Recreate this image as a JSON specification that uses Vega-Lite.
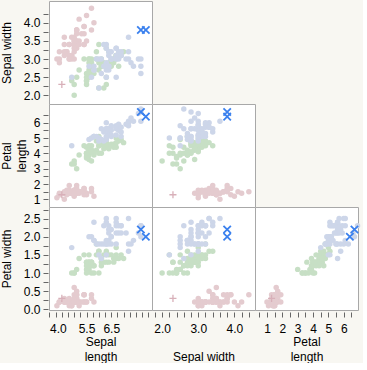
{
  "$schema": "https://vega.github.io/schema/vega-lite/v6.json",
  "background": "#f8f7f2",
  "padding": {"left": -1, "top": 0, "right": 0, "bottom": 0},
  "datasets": {
    "iris": [
      {"sl":5.1,"sw":3.5,"pl":1.4,"pw":0.2,"species":"setosa"},
      {"sl":4.9,"sw":3.0,"pl":1.4,"pw":0.2,"species":"setosa"},
      {"sl":4.7,"sw":3.2,"pl":1.3,"pw":0.2,"species":"setosa"},
      {"sl":4.6,"sw":3.1,"pl":1.5,"pw":0.2,"species":"setosa"},
      {"sl":5.0,"sw":3.6,"pl":1.4,"pw":0.2,"species":"setosa"},
      {"sl":5.4,"sw":3.9,"pl":1.7,"pw":0.4,"species":"setosa"},
      {"sl":4.6,"sw":3.4,"pl":1.4,"pw":0.3,"species":"setosa"},
      {"sl":5.0,"sw":3.4,"pl":1.5,"pw":0.2,"species":"setosa"},
      {"sl":4.4,"sw":2.9,"pl":1.4,"pw":0.2,"species":"setosa"},
      {"sl":4.9,"sw":3.1,"pl":1.5,"pw":0.1,"species":"setosa"},
      {"sl":5.4,"sw":3.7,"pl":1.5,"pw":0.2,"species":"setosa"},
      {"sl":4.8,"sw":3.4,"pl":1.6,"pw":0.2,"species":"setosa"},
      {"sl":4.8,"sw":3.0,"pl":1.4,"pw":0.1,"species":"setosa"},
      {"sl":4.3,"sw":3.0,"pl":1.1,"pw":0.1,"species":"setosa"},
      {"sl":5.8,"sw":4.0,"pl":1.2,"pw":0.2,"species":"setosa"},
      {"sl":5.7,"sw":4.4,"pl":1.5,"pw":0.4,"species":"setosa"},
      {"sl":5.4,"sw":3.9,"pl":1.3,"pw":0.4,"species":"setosa"},
      {"sl":5.1,"sw":3.5,"pl":1.4,"pw":0.3,"species":"setosa"},
      {"sl":5.7,"sw":3.8,"pl":1.7,"pw":0.3,"species":"setosa"},
      {"sl":5.1,"sw":3.8,"pl":1.5,"pw":0.3,"species":"setosa"},
      {"sl":5.4,"sw":3.4,"pl":1.7,"pw":0.2,"species":"setosa"},
      {"sl":5.1,"sw":3.7,"pl":1.5,"pw":0.4,"species":"setosa"},
      {"sl":4.6,"sw":3.6,"pl":1.0,"pw":0.2,"species":"setosa"},
      {"sl":5.1,"sw":3.3,"pl":1.7,"pw":0.5,"species":"setosa"},
      {"sl":4.8,"sw":3.4,"pl":1.9,"pw":0.2,"species":"setosa"},
      {"sl":5.0,"sw":3.0,"pl":1.6,"pw":0.2,"species":"setosa"},
      {"sl":5.0,"sw":3.4,"pl":1.6,"pw":0.4,"species":"setosa"},
      {"sl":5.2,"sw":3.5,"pl":1.5,"pw":0.2,"species":"setosa"},
      {"sl":5.2,"sw":3.4,"pl":1.4,"pw":0.2,"species":"setosa"},
      {"sl":4.7,"sw":3.2,"pl":1.6,"pw":0.2,"species":"setosa"},
      {"sl":4.8,"sw":3.1,"pl":1.6,"pw":0.2,"species":"setosa"},
      {"sl":5.4,"sw":3.4,"pl":1.5,"pw":0.4,"species":"setosa"},
      {"sl":5.2,"sw":4.1,"pl":1.5,"pw":0.1,"species":"setosa"},
      {"sl":5.5,"sw":4.2,"pl":1.4,"pw":0.2,"species":"setosa"},
      {"sl":4.9,"sw":3.1,"pl":1.5,"pw":0.2,"species":"setosa"},
      {"sl":5.0,"sw":3.2,"pl":1.2,"pw":0.2,"species":"setosa"},
      {"sl":5.5,"sw":3.5,"pl":1.3,"pw":0.2,"species":"setosa"},
      {"sl":4.9,"sw":3.6,"pl":1.4,"pw":0.1,"species":"setosa"},
      {"sl":4.4,"sw":3.0,"pl":1.3,"pw":0.2,"species":"setosa"},
      {"sl":5.1,"sw":3.4,"pl":1.5,"pw":0.2,"species":"setosa"},
      {"sl":5.0,"sw":3.5,"pl":1.3,"pw":0.3,"species":"setosa"},
      {"sl":4.5,"sw":2.3,"pl":1.3,"pw":0.3,"species":"setosa","flag":"outlier"},
      {"sl":4.4,"sw":3.2,"pl":1.3,"pw":0.2,"species":"setosa"},
      {"sl":5.0,"sw":3.5,"pl":1.6,"pw":0.6,"species":"setosa"},
      {"sl":5.1,"sw":3.8,"pl":1.9,"pw":0.4,"species":"setosa"},
      {"sl":4.8,"sw":3.0,"pl":1.4,"pw":0.3,"species":"setosa"},
      {"sl":5.1,"sw":3.8,"pl":1.6,"pw":0.2,"species":"setosa"},
      {"sl":4.6,"sw":3.2,"pl":1.4,"pw":0.2,"species":"setosa"},
      {"sl":5.3,"sw":3.7,"pl":1.5,"pw":0.2,"species":"setosa"},
      {"sl":5.0,"sw":3.3,"pl":1.4,"pw":0.2,"species":"setosa"},
      {"sl":7.0,"sw":3.2,"pl":4.7,"pw":1.4,"species":"versicolor"},
      {"sl":6.4,"sw":3.2,"pl":4.5,"pw":1.5,"species":"versicolor"},
      {"sl":6.9,"sw":3.1,"pl":4.9,"pw":1.5,"species":"versicolor"},
      {"sl":5.5,"sw":2.3,"pl":4.0,"pw":1.3,"species":"versicolor"},
      {"sl":6.5,"sw":2.8,"pl":4.6,"pw":1.5,"species":"versicolor"},
      {"sl":5.7,"sw":2.8,"pl":4.5,"pw":1.3,"species":"versicolor"},
      {"sl":6.3,"sw":3.3,"pl":4.7,"pw":1.6,"species":"versicolor"},
      {"sl":4.9,"sw":2.4,"pl":3.3,"pw":1.0,"species":"versicolor"},
      {"sl":6.6,"sw":2.9,"pl":4.6,"pw":1.3,"species":"versicolor"},
      {"sl":5.2,"sw":2.7,"pl":3.9,"pw":1.4,"species":"versicolor"},
      {"sl":5.0,"sw":2.0,"pl":3.5,"pw":1.0,"species":"versicolor"},
      {"sl":5.9,"sw":3.0,"pl":4.2,"pw":1.5,"species":"versicolor"},
      {"sl":6.0,"sw":2.2,"pl":4.0,"pw":1.0,"species":"versicolor"},
      {"sl":6.1,"sw":2.9,"pl":4.7,"pw":1.4,"species":"versicolor"},
      {"sl":5.6,"sw":2.9,"pl":3.6,"pw":1.3,"species":"versicolor"},
      {"sl":6.7,"sw":3.1,"pl":4.4,"pw":1.4,"species":"versicolor"},
      {"sl":5.6,"sw":3.0,"pl":4.5,"pw":1.5,"species":"versicolor"},
      {"sl":5.8,"sw":2.7,"pl":4.1,"pw":1.0,"species":"versicolor"},
      {"sl":6.2,"sw":2.2,"pl":4.5,"pw":1.5,"species":"versicolor"},
      {"sl":5.6,"sw":2.5,"pl":3.9,"pw":1.1,"species":"versicolor"},
      {"sl":5.9,"sw":3.2,"pl":4.8,"pw":1.8,"species":"versicolor"},
      {"sl":6.1,"sw":2.8,"pl":4.0,"pw":1.3,"species":"versicolor"},
      {"sl":6.3,"sw":2.5,"pl":4.9,"pw":1.5,"species":"versicolor"},
      {"sl":6.1,"sw":2.8,"pl":4.7,"pw":1.2,"species":"versicolor"},
      {"sl":6.4,"sw":2.9,"pl":4.3,"pw":1.3,"species":"versicolor"},
      {"sl":6.6,"sw":3.0,"pl":4.4,"pw":1.4,"species":"versicolor"},
      {"sl":6.8,"sw":2.8,"pl":4.8,"pw":1.4,"species":"versicolor"},
      {"sl":6.7,"sw":3.0,"pl":5.0,"pw":1.7,"species":"versicolor"},
      {"sl":6.0,"sw":2.9,"pl":4.5,"pw":1.5,"species":"versicolor"},
      {"sl":5.7,"sw":2.6,"pl":3.5,"pw":1.0,"species":"versicolor"},
      {"sl":5.5,"sw":2.4,"pl":3.8,"pw":1.1,"species":"versicolor"},
      {"sl":5.5,"sw":2.4,"pl":3.7,"pw":1.0,"species":"versicolor"},
      {"sl":5.8,"sw":2.7,"pl":3.9,"pw":1.2,"species":"versicolor"},
      {"sl":6.0,"sw":2.7,"pl":5.1,"pw":1.6,"species":"versicolor"},
      {"sl":5.4,"sw":3.0,"pl":4.5,"pw":1.5,"species":"versicolor"},
      {"sl":6.0,"sw":3.4,"pl":4.5,"pw":1.6,"species":"versicolor"},
      {"sl":6.7,"sw":3.1,"pl":4.7,"pw":1.5,"species":"versicolor"},
      {"sl":6.3,"sw":2.3,"pl":4.4,"pw":1.3,"species":"versicolor"},
      {"sl":5.6,"sw":3.0,"pl":4.1,"pw":1.3,"species":"versicolor"},
      {"sl":5.5,"sw":2.5,"pl":4.0,"pw":1.3,"species":"versicolor"},
      {"sl":5.5,"sw":2.6,"pl":4.4,"pw":1.2,"species":"versicolor"},
      {"sl":6.1,"sw":3.0,"pl":4.6,"pw":1.4,"species":"versicolor"},
      {"sl":5.8,"sw":2.6,"pl":4.0,"pw":1.2,"species":"versicolor"},
      {"sl":5.0,"sw":2.3,"pl":3.3,"pw":1.0,"species":"versicolor"},
      {"sl":5.6,"sw":2.7,"pl":4.2,"pw":1.3,"species":"versicolor"},
      {"sl":5.7,"sw":3.0,"pl":4.2,"pw":1.2,"species":"versicolor"},
      {"sl":5.7,"sw":2.9,"pl":4.2,"pw":1.3,"species":"versicolor"},
      {"sl":6.2,"sw":2.9,"pl":4.3,"pw":1.3,"species":"versicolor"},
      {"sl":5.1,"sw":2.5,"pl":3.0,"pw":1.1,"species":"versicolor"},
      {"sl":5.7,"sw":2.8,"pl":4.1,"pw":1.3,"species":"versicolor"},
      {"sl":6.3,"sw":3.3,"pl":6.0,"pw":2.5,"species":"virginica"},
      {"sl":5.8,"sw":2.7,"pl":5.1,"pw":1.9,"species":"virginica"},
      {"sl":7.1,"sw":3.0,"pl":5.9,"pw":2.1,"species":"virginica"},
      {"sl":6.3,"sw":2.9,"pl":5.6,"pw":1.8,"species":"virginica"},
      {"sl":6.5,"sw":3.0,"pl":5.8,"pw":2.2,"species":"virginica"},
      {"sl":7.6,"sw":3.0,"pl":6.6,"pw":2.1,"species":"virginica"},
      {"sl":4.9,"sw":2.5,"pl":4.5,"pw":1.7,"species":"virginica"},
      {"sl":7.3,"sw":2.9,"pl":6.3,"pw":1.8,"species":"virginica"},
      {"sl":6.7,"sw":2.5,"pl":5.8,"pw":1.8,"species":"virginica"},
      {"sl":7.2,"sw":3.6,"pl":6.1,"pw":2.5,"species":"virginica"},
      {"sl":6.5,"sw":3.2,"pl":5.1,"pw":2.0,"species":"virginica"},
      {"sl":6.4,"sw":2.7,"pl":5.3,"pw":1.9,"species":"virginica"},
      {"sl":6.8,"sw":3.0,"pl":5.5,"pw":2.1,"species":"virginica"},
      {"sl":5.7,"sw":2.5,"pl":5.0,"pw":2.0,"species":"virginica"},
      {"sl":5.8,"sw":2.8,"pl":5.1,"pw":2.4,"species":"virginica"},
      {"sl":6.4,"sw":3.2,"pl":5.3,"pw":2.3,"species":"virginica"},
      {"sl":6.5,"sw":3.0,"pl":5.5,"pw":1.8,"species":"virginica"},
      {"sl":7.7,"sw":3.8,"pl":6.7,"pw":2.2,"species":"virginica","flag":"extreme"},
      {"sl":7.7,"sw":2.6,"pl":6.9,"pw":2.3,"species":"virginica"},
      {"sl":6.0,"sw":2.2,"pl":5.0,"pw":1.5,"species":"virginica"},
      {"sl":6.9,"sw":3.2,"pl":5.7,"pw":2.3,"species":"virginica"},
      {"sl":5.6,"sw":2.8,"pl":4.9,"pw":2.0,"species":"virginica"},
      {"sl":7.7,"sw":2.8,"pl":6.7,"pw":2.0,"species":"virginica"},
      {"sl":6.3,"sw":2.7,"pl":4.9,"pw":1.8,"species":"virginica"},
      {"sl":6.7,"sw":3.3,"pl":5.7,"pw":2.1,"species":"virginica"},
      {"sl":7.2,"sw":3.2,"pl":6.0,"pw":1.8,"species":"virginica"},
      {"sl":6.2,"sw":2.8,"pl":4.8,"pw":1.8,"species":"virginica"},
      {"sl":6.1,"sw":3.0,"pl":4.9,"pw":1.8,"species":"virginica"},
      {"sl":6.4,"sw":2.8,"pl":5.6,"pw":2.1,"species":"virginica"},
      {"sl":7.2,"sw":3.0,"pl":5.8,"pw":1.6,"species":"virginica"},
      {"sl":7.4,"sw":2.8,"pl":6.1,"pw":1.9,"species":"virginica"},
      {"sl":7.9,"sw":3.8,"pl":6.4,"pw":2.0,"species":"virginica","flag":"extreme"},
      {"sl":6.4,"sw":2.8,"pl":5.6,"pw":2.2,"species":"virginica"},
      {"sl":6.3,"sw":2.8,"pl":5.1,"pw":1.5,"species":"virginica"},
      {"sl":6.1,"sw":2.6,"pl":5.6,"pw":1.4,"species":"virginica"},
      {"sl":7.7,"sw":3.0,"pl":6.1,"pw":2.3,"species":"virginica"},
      {"sl":6.3,"sw":3.4,"pl":5.6,"pw":2.4,"species":"virginica"},
      {"sl":6.4,"sw":3.1,"pl":5.5,"pw":1.8,"species":"virginica"},
      {"sl":6.0,"sw":3.0,"pl":4.8,"pw":1.8,"species":"virginica"},
      {"sl":6.9,"sw":3.1,"pl":5.4,"pw":2.1,"species":"virginica"},
      {"sl":6.7,"sw":3.1,"pl":5.6,"pw":2.4,"species":"virginica"},
      {"sl":6.9,"sw":3.1,"pl":5.1,"pw":2.3,"species":"virginica"},
      {"sl":5.8,"sw":2.7,"pl":5.1,"pw":1.9,"species":"virginica"},
      {"sl":6.8,"sw":3.2,"pl":5.9,"pw":2.3,"species":"virginica"},
      {"sl":6.7,"sw":3.3,"pl":5.7,"pw":2.5,"species":"virginica"},
      {"sl":6.7,"sw":3.0,"pl":5.2,"pw":2.3,"species":"virginica"},
      {"sl":6.3,"sw":2.5,"pl":5.0,"pw":1.9,"species":"virginica"},
      {"sl":6.5,"sw":3.0,"pl":5.2,"pw":2.0,"species":"virginica"},
      {"sl":6.2,"sw":3.4,"pl":5.4,"pw":2.3,"species":"virginica"},
      {"sl":5.9,"sw":3.0,"pl":5.1,"pw":1.8,"species":"virginica"}
    ]
  },
  "data": {"name": "iris"},
  "columns": 3,
  "spacing": 0,
  "bounds": "flush",
  "resolve": {"scale": {"x": "independent", "y": "independent"}},
  "concat": [
    {
      "width": 103, "height": 103,
      "encoding": {
        "x": {"field": "sl", "type": "quantitative", "scale": {"domain": [3.98, 8.15], "nice": false, "zero": false}, "axis": null},
        "y": {"field": "sw", "type": "quantitative", "scale": {"domain": [1.76, 4.6], "nice": false, "zero": false},
              "axis": {"title": "Sepal width", "values": [2.0,2.25,2.5,2.75,3.0,3.25,3.5,3.75,4.0,4.25], "labelExpr": "abs(datum.value*2 - round(datum.value*2)) < 0.001 ? format(datum.value, '.1f') : ''", "titleX": -47, "titleBaseline": "top", "titleAngle": 270}}
      },
      "layer": [
        {"transform": [{"filter": "!datum.flag"}], "mark": {"type": "circle", "size": 30, "opacity": 1},
         "encoding": {"color": {"field": "species", "type": "nominal", "scale": {"domain": ["setosa","versicolor","virginica"], "range": ["#e4cbcf","#c7dfc5","#cdd6e9"]}, "legend": null}}},
        {"transform": [{"filter": "datum.flag == 'outlier'"}], "mark": {"type": "point", "shape": "M-1,0L1,0M0,-1L0,1", "size": 50, "filled": false, "stroke": "#d8b0b9", "strokeWidth": 1.3, "opacity": 1}},
        {"transform": [{"filter": "datum.flag == 'extreme'"}], "mark": {"type": "point", "shape": "M-1,-1L1,1M-1,1L1,-1", "size": 55, "filled": false, "stroke": "#3a80ee", "strokeWidth": 1.8, "opacity": 1}}
      ]
    },
    {"width": 103, "height": 103, "view": {"fill": null, "stroke": null}, "data": {"values": []}, "mark": "point", "encoding": {}},
    {"width": 103, "height": 103, "view": {"fill": null, "stroke": null}, "data": {"values": []}, "mark": "point", "encoding": {}},
    {
      "width": 103, "height": 103,
      "encoding": {
        "x": {"field": "sl", "type": "quantitative", "scale": {"domain": [3.98, 8.15], "nice": false, "zero": false}, "axis": null},
        "y": {"field": "pl", "type": "quantitative", "scale": {"domain": [0.5, 7.22], "nice": false, "zero": false},
              "axis": {"title": ["Petal", "length"], "values": [1,1.5,2,2.5,3,3.5,4,4.5,5,5.5,6,6.5], "labelExpr": "abs(datum.value - round(datum.value)) < 0.001 ? format(datum.value, 'd') : ''", "titleX": -47, "titleBaseline": "top", "titleAngle": 270}}
      },
      "layer": [
        {"transform": [{"filter": "!datum.flag"}], "mark": {"type": "circle", "size": 30, "opacity": 1},
         "encoding": {"color": {"field": "species", "type": "nominal", "scale": {"domain": ["setosa","versicolor","virginica"], "range": ["#e4cbcf","#c7dfc5","#cdd6e9"]}, "legend": null}}},
        {"transform": [{"filter": "datum.flag == 'outlier'"}], "mark": {"type": "point", "shape": "M-1,0L1,0M0,-1L0,1", "size": 50, "filled": false, "stroke": "#d8b0b9", "strokeWidth": 1.3, "opacity": 1}},
        {"transform": [{"filter": "datum.flag == 'extreme'"}], "mark": {"type": "point", "shape": "M-1,-1L1,1M-1,1L1,-1", "size": 55, "filled": false, "stroke": "#3a80ee", "strokeWidth": 1.8, "opacity": 1}}
      ]
    },
    {
      "width": 103, "height": 103,
      "encoding": {
        "x": {"field": "sw", "type": "quantitative", "scale": {"domain": [1.72, 4.57], "nice": false, "zero": false}, "axis": null},
        "y": {"field": "pl", "type": "quantitative", "scale": {"domain": [0.5, 7.22], "nice": false, "zero": false}, "axis": null}
      },
      "layer": [
        {"transform": [{"filter": "!datum.flag"}], "mark": {"type": "circle", "size": 30, "opacity": 1},
         "encoding": {"color": {"field": "species", "type": "nominal", "scale": {"domain": ["setosa","versicolor","virginica"], "range": ["#e4cbcf","#c7dfc5","#cdd6e9"]}, "legend": null}}},
        {"transform": [{"filter": "datum.flag == 'outlier'"}], "mark": {"type": "point", "shape": "M-1,0L1,0M0,-1L0,1", "size": 50, "filled": false, "stroke": "#d8b0b9", "strokeWidth": 1.3, "opacity": 1}},
        {"transform": [{"filter": "datum.flag == 'extreme'"}], "mark": {"type": "point", "shape": "M-1,-1L1,1M-1,1L1,-1", "size": 55, "filled": false, "stroke": "#3a80ee", "strokeWidth": 1.8, "opacity": 1}}
      ]
    },
    {"width": 103, "height": 103, "view": {"fill": null, "stroke": null}, "data": {"values": []}, "mark": "point", "encoding": {}},
    {
      "width": 103, "height": 103,
      "encoding": {
        "x": {"field": "sl", "type": "quantitative", "scale": {"domain": [3.98, 8.15], "nice": false, "zero": false},
              "axis": {"title": ["Sepal", "length"], "values": [4,4.25,4.5,4.75,5,5.25,5.5,5.75,6,6.25,6.5,6.75,7,7.25,7.5,7.75,8], "labelExpr": "indexof([4, 5.5, 6.5], datum.value) >= 0 ? format(datum.value, '.1f') : ''", "labelFlush": 3, "titleY": 24, "titleBaseline": "top"}},
        "y": {"field": "pw", "type": "quantitative", "scale": {"domain": [-0.02, 2.82], "nice": false, "zero": false},
              "axis": {"title": "Petal width", "values": [0,0.25,0.5,0.75,1,1.25,1.5,1.75,2,2.25,2.5,2.75], "labelExpr": "abs(datum.value*2 - round(datum.value*2)) < 0.001 ? format(datum.value, '.1f') : ''", "titleX": -47, "titleBaseline": "top", "titleAngle": 270}}
      },
      "layer": [
        {"transform": [{"filter": "!datum.flag"}], "mark": {"type": "circle", "size": 30, "opacity": 1},
         "encoding": {"color": {"field": "species", "type": "nominal", "scale": {"domain": ["setosa","versicolor","virginica"], "range": ["#e4cbcf","#c7dfc5","#cdd6e9"]}, "legend": null}}},
        {"transform": [{"filter": "datum.flag == 'outlier'"}], "mark": {"type": "point", "shape": "M-1,0L1,0M0,-1L0,1", "size": 50, "filled": false, "stroke": "#d8b0b9", "strokeWidth": 1.3, "opacity": 1}},
        {"transform": [{"filter": "datum.flag == 'extreme'"}], "mark": {"type": "point", "shape": "M-1,-1L1,1M-1,1L1,-1", "size": 55, "filled": false, "stroke": "#3a80ee", "strokeWidth": 1.8, "opacity": 1}}
      ]
    },
    {
      "width": 103, "height": 103,
      "encoding": {
        "x": {"field": "sw", "type": "quantitative", "scale": {"domain": [1.72, 4.57], "nice": false, "zero": false},
              "axis": {"title": "Sepal width", "values": [1.8,2.0,2.2,2.4,2.6,2.8,3.0,3.2,3.4,3.6,3.8,4.0,4.2,4.4], "labelExpr": "abs(datum.value - round(datum.value)) < 0.001 ? format(datum.value, '.1f') : ''", "titleY": 39, "titleBaseline": "top"}},
        "y": {"field": "pw", "type": "quantitative", "scale": {"domain": [-0.02, 2.82], "nice": false, "zero": false}, "axis": null}
      },
      "layer": [
        {"transform": [{"filter": "!datum.flag"}], "mark": {"type": "circle", "size": 30, "opacity": 1},
         "encoding": {"color": {"field": "species", "type": "nominal", "scale": {"domain": ["setosa","versicolor","virginica"], "range": ["#e4cbcf","#c7dfc5","#cdd6e9"]}, "legend": null}}},
        {"transform": [{"filter": "datum.flag == 'outlier'"}], "mark": {"type": "point", "shape": "M-1,0L1,0M0,-1L0,1", "size": 50, "filled": false, "stroke": "#d8b0b9", "strokeWidth": 1.3, "opacity": 1}},
        {"transform": [{"filter": "datum.flag == 'extreme'"}], "mark": {"type": "point", "shape": "M-1,-1L1,1M-1,1L1,-1", "size": 55, "filled": false, "stroke": "#3a80ee", "strokeWidth": 1.8, "opacity": 1}}
      ]
    },
    {
      "width": 103, "height": 103,
      "encoding": {
        "x": {"field": "pl", "type": "quantitative", "scale": {"domain": [0.22, 6.93], "nice": false, "zero": false},
              "axis": {"title": ["Petal", "length"], "values": [0.5,1,1.5,2,2.5,3,3.5,4,4.5,5,5.5,6,6.5], "labelExpr": "abs(datum.value - round(datum.value)) < 0.001 ? format(datum.value, 'd') : ''", "titleY": 24, "titleBaseline": "top"}},
        "y": {"field": "pw", "type": "quantitative", "scale": {"domain": [-0.02, 2.82], "nice": false, "zero": false}, "axis": null}
      },
      "layer": [
        {"transform": [{"filter": "!datum.flag"}], "mark": {"type": "circle", "size": 30, "opacity": 1},
         "encoding": {"color": {"field": "species", "type": "nominal", "scale": {"domain": ["setosa","versicolor","virginica"], "range": ["#e4cbcf","#c7dfc5","#cdd6e9"]}, "legend": null}}},
        {"transform": [{"filter": "datum.flag == 'outlier'"}], "mark": {"type": "point", "shape": "M-1,0L1,0M0,-1L0,1", "size": 50, "filled": false, "stroke": "#d8b0b9", "strokeWidth": 1.3, "opacity": 1}},
        {"transform": [{"filter": "datum.flag == 'extreme'"}], "mark": {"type": "point", "shape": "M-1,-1L1,1M-1,1L1,-1", "size": 55, "filled": false, "stroke": "#3a80ee", "strokeWidth": 1.8, "opacity": 1}}
      ]
    }
  ],
  "config": {
    "view": {"fill": "white", "stroke": "#a8a8a8", "strokeWidth": 1},
    "axis": {
      "domain": false, "grid": false, "ticks": true, "tickColor": "#666", "tickSize": 5,
      "labelFont": "Liberation Sans", "labelFontSize": 12, "labelColor": "black", "labelOverlap": false,
      "titleFont": "Liberation Sans", "titleFontSize": 12, "titleFontWeight": "normal", "titleColor": "black", "titleLineHeight": 15
    },
    "axisY": {"labelPadding": 3, "offset": 1},
    "axisX": {"labelPadding": 6, "offset": 2}
  }
}
